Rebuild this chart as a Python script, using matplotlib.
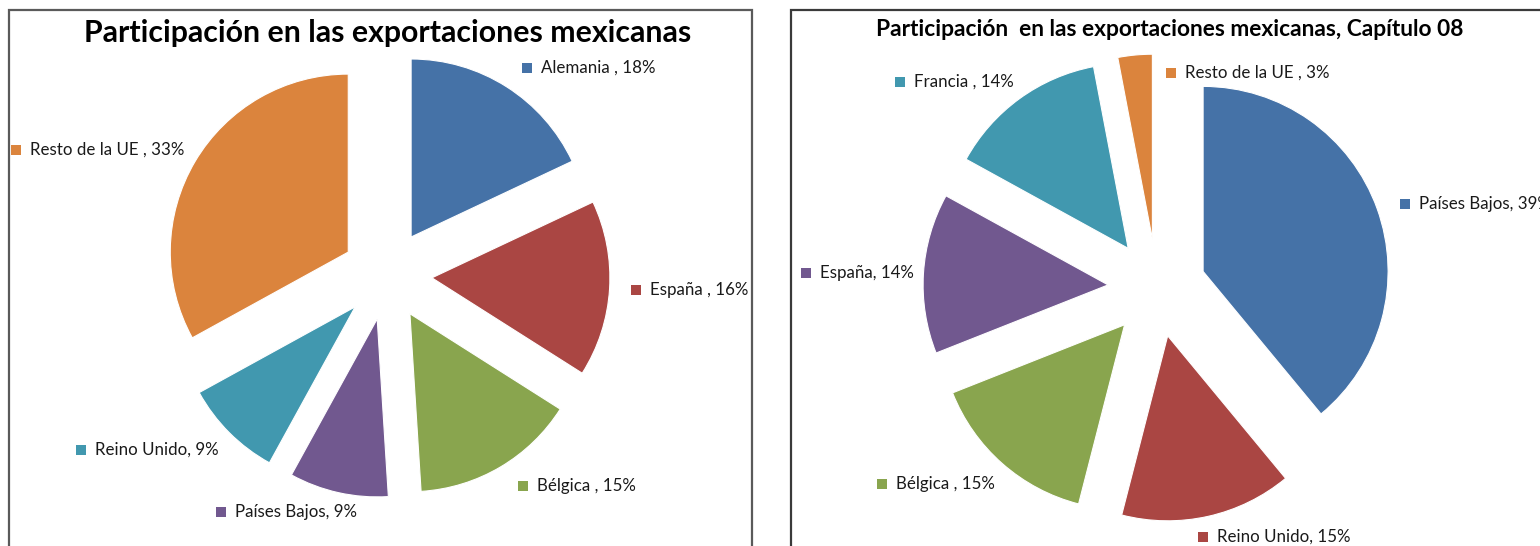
import matplotlib
matplotlib.use("Agg")
import matplotlib.pyplot as plt
from matplotlib.patches import Rectangle

plt.rcParams['font.family'] = ['Lato', 'DejaVu Sans']

# Datos: gráfico izquierdo (total)
paises_izq = ["Alemania ", "España ", "Bélgica ", "Países Bajos", "Reino Unido", "Resto de la UE "]
valores_izq = [18, 16, 15, 9, 9, 33]
colores_izq = ["#4572A7", "#AA4643", "#89A54E", "#71588F", "#4198AF", "#DB843D"]

# Datos: gráfico derecho (Capítulo 08)
paises_der = ["Países Bajos", "Reino Unido", "Bélgica ", "España", "Francia ", "Resto de la UE "]
valores_der = [39, 15, 15, 14, 14, 3]
colores_der = ["#4572A7", "#AA4643", "#89A54E", "#71588F", "#4198AF", "#DB843D"]

# posiciones de las etiquetas (pixeles, origen arriba-izquierda)
pos_izq = [(527, 68), (636, 290), (523, 486), (221, 512), (81, 450), (16, 150)]
pos_der = [(1405, 204), (1203, 537), (882, 484), (806, 273), (900, 82), (1171, 73)]

W, H = 1540, 546
fig = plt.figure(figsize=(W / 100, H / 100), dpi=100)
ax = fig.add_axes([0, 0, 1, 1])
ax.set_aspect("equal")

# marcos de los dos graficos
ax.add_patch(Rectangle((9, -20), 743, H - 10 + 20, fill=False, edgecolor="#5a5a5a", lw=1.6))
ax.add_patch(Rectangle((791, -20), 900, H - 10 + 20, fill=False, edgecolor="#3a3a3a", lw=1.6))


def tarta(vals, cols, centro, r, sep):
    ax.pie(vals, colors=cols, startangle=90, counterclock=False,
           center=centro, radius=r, explode=[sep] * len(vals),
           wedgeprops=dict(edgecolor="white", linewidth=0.8), frame=True)


tarta(valores_izq, colores_izq, (387, H - 275), 178, 45)
tarta(valores_der, colores_der, (1157, H - 288), 185, 49)
ax.set_xlim(0, W)
ax.set_ylim(0, H)
ax.axis("off")


def etiquetas(nombres, vals, cols, posiciones):
    for n, v, c, (x, y) in zip(nombres, vals, cols, posiciones):
        ax.scatter([x], [H - y], marker="s", s=60, color=c, linewidths=0)
        ax.text(x + 14, H - y, f"{n}, {v}%", fontsize=12.2, va="center", ha="left",
                color="#1a1a1a")


etiquetas(paises_izq, valores_izq, colores_izq, pos_izq)
etiquetas(paises_der, valores_der, colores_der, pos_der)

ax.text(388, H - 33, "Participación en las exportaciones mexicanas", fontsize=21.8,
        fontweight="bold", ha="center", va="center", color="black")
ax.text(1170, H - 30, "Participación  en las exportaciones mexicanas, Capítulo 08",
        fontsize=16.4, fontweight="bold", ha="center", va="center", color="black")

fig.savefig("out.png", dpi=100)
